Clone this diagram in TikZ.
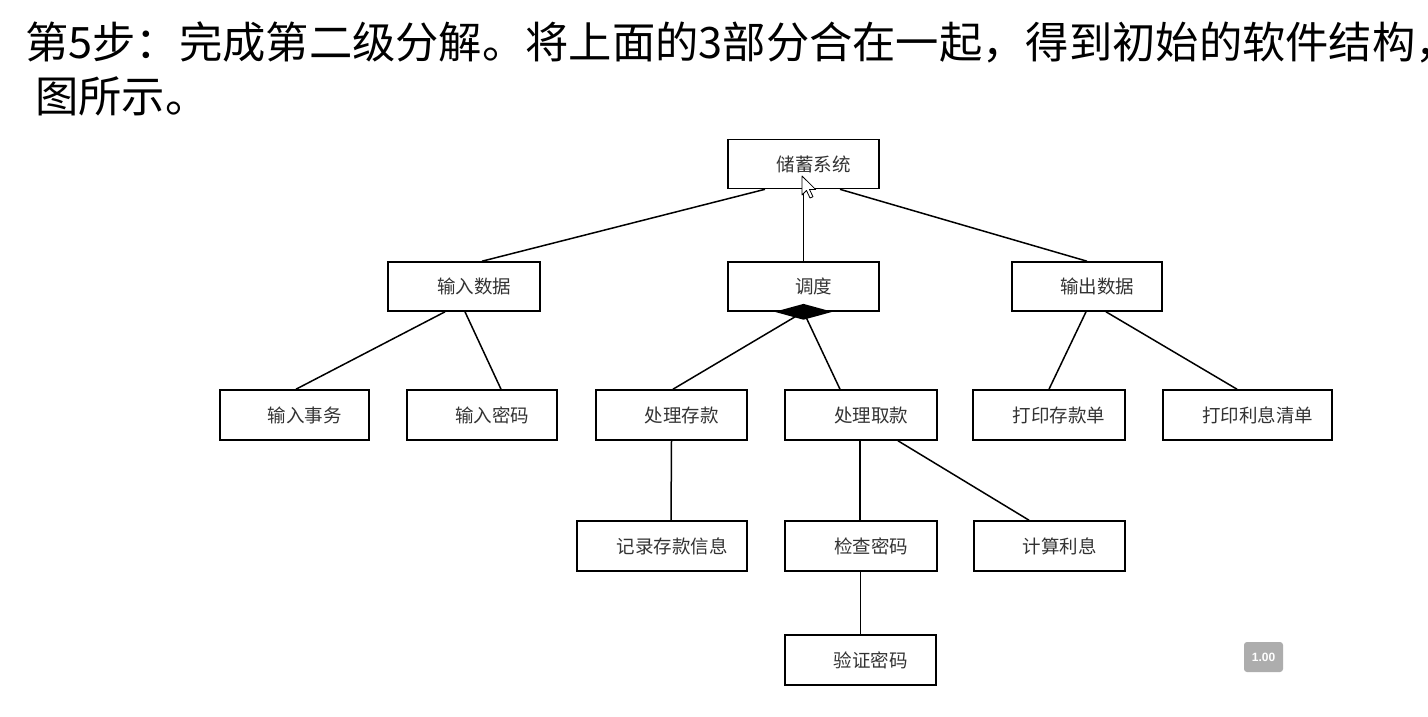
\documentclass[tikz,border=0pt]{standalone}
\usepackage{fontspec}
\setmainfont{Noto Sans CJK SC}
\newfontfamily\cjk{Noto Sans CJK SC}
\newfontfamily\badgefont{Liberation Sans}
\usetikzlibrary{shapes.geometric}
\tikzset{
  box/.style={draw=black, line width=1.6pt, fill=white, inner sep=0pt,
    minimum height=49pt, font=\cjk\fontsize{18.5}{18.5}\selectfont, text=black!80,
    execute at begin node=\hspace*{20pt}},
  link/.style={draw=black, line width=1.5pt},
}
\begin{document}
\begin{tikzpicture}[x=1pt,y=-1pt]
\clip (0,0) rectangle (1428,716);
\fill[white] (0,0) rectangle (1428,716);
% title
\node[anchor=base west, inner sep=0pt, font=\cjk\fontsize{43.3}{43.3}\selectfont] (t1) at (25,58)
  {第5步：完成第二级分解。将上面的3部分合在一起，得到初始的软件结构，};
\node[anchor=base west, inner sep=0pt, font=\cjk\fontsize{43.3}{43.3}\selectfont] (t2) at (35,112)
  {图所示。};
% boxes
\node[box, minimum width=151pt] (root) at (803.5,164) {储蓄系统};
\node[box, minimum width=152pt] (in) at (464,286.5) {输入数据};
\node[box, minimum width=151pt] (dis) at (803.5,286.5) {调度};
\node[box, minimum width=150pt] (out) at (1087,286.5) {输出数据};
\node[box, minimum width=149pt, minimum height=50pt] (a1) at (294.5,415) {输入事务};
\node[box, minimum width=150pt, minimum height=50pt] (a2) at (482,415) {输入密码};
\node[box, minimum width=151pt, minimum height=50pt] (b1) at (671.5,415) {处理存款};
\node[box, minimum width=152pt, minimum height=50pt] (b2) at (861,415) {处理取款};
\node[box, minimum width=152pt, minimum height=50pt] (c1) at (1049,415) {打印存款单};
\node[box, minimum width=169pt, minimum height=50pt] (c2) at (1247.5,415) {打印利息清单};
\node[box, minimum width=170pt, minimum height=50pt] (d1) at (662,546) {记录存款信息};
\node[box, minimum width=152pt, minimum height=50pt] (d2) at (861,546) {检查密码};
\node[box, minimum width=151pt, minimum height=50pt] (d3) at (1049.5,546) {计算利息};
\node[box, minimum width=151pt, minimum height=50pt] (e1) at (860.5,660) {验证密码};
% connectors
\draw[link] ([xshift=-38.5pt]root.south) -- ([xshift=18pt]in.north);
\draw[link] (root.south) -- (dis.north);
\draw[link] ([xshift=36.5pt]root.south) -- (out.north);
\draw[link] ([xshift=-19pt]in.south) -- ([xshift=1.5pt]a1.north);
\draw[link] ([xshift=1pt]in.south) -- ([xshift=19pt]a2.north);
\draw[link] (dis.south) -- ([xshift=1.5pt]b1.north);
\draw[link] (dis.south) -- ([xshift=-21pt]b2.north);
\node[diamond, fill=black, inner sep=0pt, minimum width=58pt, minimum height=16pt] (dia) at (dis.south) {};
\draw[link] ([xshift=-1pt]out.south) -- (c1.north);
\draw[link] ([xshift=19pt]out.south) -- ([xshift=-10.5pt]c2.north);
\draw[link] (b1.south) -- ([xshift=9pt]d1.north);
\draw[link] ([xshift=-1pt]b2.south) -- ([xshift=-1pt]d2.north);
\draw[link] ([xshift=37pt]b2.south) -- ([xshift=-20.5pt]d3.north);
\draw[link] ([xshift=-0.5pt]d2.south) -- (e1.north);
% cursor
\coordinate (cur) at (802,176);
\draw[fill=white, line width=0.8pt, line join=round] (cur) -- ++(0,19) -- ++(4.5,-4.5) -- ++(3.5,7.5) -- ++(3,-1.3) -- ++(-3.5,-7.2) -- ++(6.2,0) -- cycle;
% badge
\node[fill=black!32, rounded corners=3pt, minimum width=39pt, minimum height=30pt, inner sep=0pt,
  text=white, font=\badgefont\bfseries\fontsize{12}{12}\selectfont] (badge) at (1263.5,657) {1.00};
\end{tikzpicture}
\end{document}
